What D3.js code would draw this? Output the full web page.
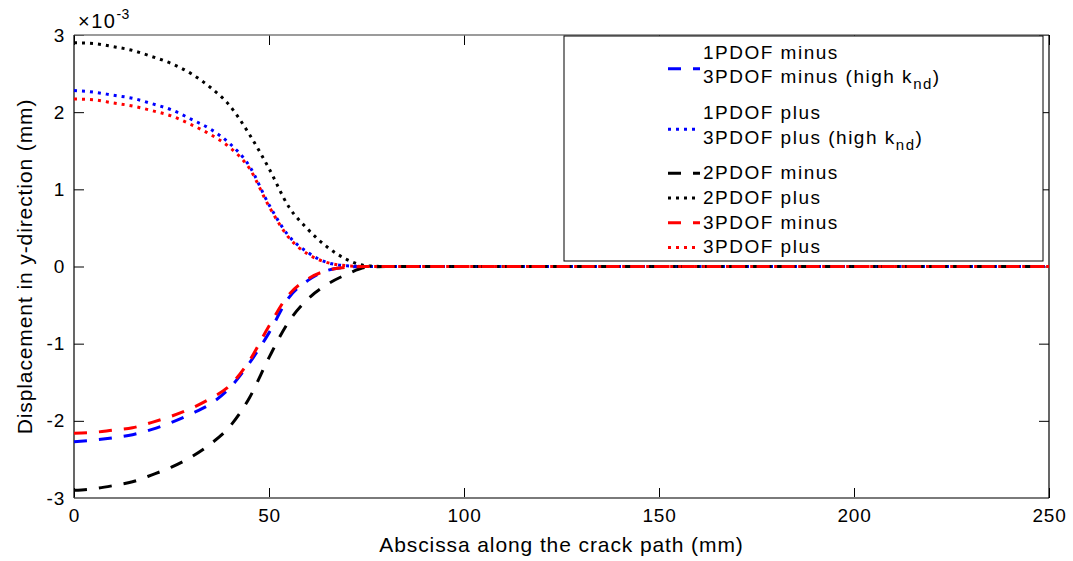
<!DOCTYPE html>
<html>
<head>
<meta charset="utf-8">
<script src="https://cdn.jsdelivr.net/npm/d3@7"></script>
<style>
  body { margin: 0; background: #fff; }
  text { font-family: "Liberation Sans", Arial, sans-serif; fill: #000; }
</style>
</head>
<body>
<script>
// abscissa (mm) and displacements (x 1e-3 mm)
var xs = [0, 5, 10, 15, 20, 25, 30, 35, 40, 45, 50, 55, 60, 65, 70, 75, 80, 100, 150, 200, 250];

var pdof1Minus = [-2.27, -2.25, -2.22, -2.18, -2.11, -2.02, -1.91, -1.78, -1.57, -1.25, -0.86, -0.41, -0.18, -0.05, -0.01, 0, 0, 0, 0, 0, 0];
var pdof1Plus  = [2.28, 2.26, 2.22, 2.18, 2.11, 2.03, 1.91, 1.78, 1.59, 1.30, 0.80, 0.40, 0.18, 0.05, 0.01, 0, 0, 0, 0, 0, 0];
var pdof2Minus = [-2.90, -2.88, -2.84, -2.79, -2.70, -2.60, -2.47, -2.30, -2.07, -1.70, -1.18, -0.72, -0.42, -0.23, -0.10, -0.01, 0, 0, 0, 0, 0];
var pdof2Plus  = [2.90, 2.89, 2.85, 2.80, 2.72, 2.63, 2.50, 2.32, 2.08, 1.71, 1.27, 0.78, 0.48, 0.25, 0.09, 0.01, 0, 0, 0, 0, 0];
var pdof3Minus = [-2.16, -2.15, -2.12, -2.09, -2.02, -1.94, -1.84, -1.71, -1.54, -1.22, -0.77, -0.37, -0.16, -0.05, -0.01, 0, 0, 0, 0, 0, 0];
var pdof3Plus  = [2.17, 2.16, 2.12, 2.08, 2.02, 1.95, 1.84, 1.71, 1.54, 1.27, 0.78, 0.38, 0.16, 0.05, 0.01, 0, 0, 0, 0, 0, 0];

var xTicks = [0, 50, 100, 150, 200, 250];
var yTicks = [-3, -2, -1, 0, 1, 2, 3];

var series = [
  { values: pdof1Minus, color: "#0000ff", style: "dash" },
  { values: pdof1Plus,  color: "#0000ff", style: "dot" },
  { values: pdof2Minus, color: "#000000", style: "dash" },
  { values: pdof2Plus,  color: "#000000", style: "dot" },
  { values: pdof3Minus, color: "#ff0000", style: "dash" },
  { values: pdof3Plus,  color: "#ff0000", style: "dot" }
];

// legend: each entry is a list of text lines, [text, subscript, rest]
var legendEntries = [
  { idx: 0, lines: [["1PDOF minus"], ["3PDOF minus (high k", "nd", ")"]] },
  { idx: 1, lines: [["1PDOF plus"], ["3PDOF plus (high k", "nd", ")"]] },
  { idx: 2, lines: [["2PDOF minus"]] },
  { idx: 3, lines: [["2PDOF plus"]] },
  { idx: 4, lines: [["3PDOF minus"]] },
  { idx: 5, lines: [["3PDOF plus"]] }
];

var width = 1073, height = 561;
var margin = { top: 35, right: 24, bottom: 63, left: 74 };
var w = width - margin.left - margin.right,
    h = height - margin.top - margin.bottom;

var dashes = { dash: "13,12", dot: "3,5" };

var svg = d3.select("body").append("svg")
    .attr("width", width)
    .attr("height", height);

var g = svg.append("g")
    .attr("transform", "translate(" + margin.left + "," + margin.top + ")");

var x = d3.scaleLinear().domain([0, 250]).range([0, w]);
var y = d3.scaleLinear().domain([-3, 3]).range([h, 0]);

var fmt = function(d){ return String(d); };

// axes, ticks pointing inward
g.append("g")
    .attr("transform", "translate(0," + h + ")")
    .call(d3.axisBottom(x).tickValues(xTicks).tickSize(-10).tickPadding(11).tickFormat(fmt))
    .call(function(a){ a.select(".domain").remove(); });
g.append("g")
    .call(d3.axisTop(x).tickValues(xTicks).tickSize(-10).tickFormat(""))
    .call(function(a){ a.select(".domain").remove(); });
g.append("g")
    .call(d3.axisLeft(y).tickValues(yTicks).tickSize(-10).tickPadding(9).tickFormat(fmt))
    .call(function(a){ a.select(".domain").remove(); });
g.append("g")
    .attr("transform", "translate(" + w + ",0)")
    .call(d3.axisRight(y).tickValues(yTicks).tickSize(-10).tickFormat(""))
    .call(function(a){ a.select(".domain").remove(); });

g.selectAll(".tick line").attr("stroke", "#000").attr("stroke-width", 1);
g.selectAll(".tick text")
    .style("font-size", "19px")
    .style("letter-spacing", "0.8px")
    .style("font-family", "Liberation Sans, Arial, sans-serif");

// frame
g.append("line").attr("x1", 0).attr("x2", w).attr("y1", 0).attr("y2", 0)
    .attr("stroke", "#7a7a7a").attr("stroke-width", 1.5);
g.append("line").attr("x1", 0).attr("x2", w).attr("y1", h).attr("y2", h)
    .attr("stroke", "#7a7a7a").attr("stroke-width", 2);
g.append("line").attr("x1", 0).attr("x2", 0).attr("y1", 0).attr("y2", h)
    .attr("stroke", "#000").attr("stroke-width", 1.2);
g.append("line").attr("x1", w).attr("x2", w).attr("y1", 0).attr("y2", h)
    .attr("stroke", "#000").attr("stroke-width", 1.2);

// curves
var line = d3.line()
    .x(function(d){ return x(d[0]); })
    .y(function(d){ return y(d[1]); })
    .curve(d3.curveMonotoneX);

series.forEach(function(s){
  g.append("path")
      .datum(xs.map(function(v, i){ return [v, s.values[i]]; }))
      .attr("fill", "none")
      .attr("stroke", s.color)
      .attr("stroke-width", 3)
      .attr("stroke-dasharray", dashes[s.style])
      .attr("d", line);
});

// exponent label
var expo = svg.append("text")
    .attr("x", 78).attr("y", 28)
    .style("font-size", "20px")
    .style("letter-spacing", "1.5px");
expo.append("tspan").text("\u00d710");
expo.append("tspan").attr("dy", -9).style("font-size", "14px").style("letter-spacing", "0.5px").text("-3");

// axis titles
svg.append("text")
    .attr("x", margin.left + w / 2).attr("y", 552)
    .attr("text-anchor", "middle")
    .style("font-size", "21px")
    .style("letter-spacing", "0.9px")
    .text("Abscissa along the crack path (mm)");

svg.append("text")
    .attr("transform", "translate(32," + (margin.top + h / 2) + ") rotate(-90)")
    .attr("text-anchor", "middle")
    .style("font-size", "21px")
    .style("letter-spacing", "0.9px")
    .text("Displacement in y-direction (mm)");

// legend
var leg = svg.append("g");
leg.append("rect")
    .attr("x", 564).attr("y", 36)
    .attr("width", 479).attr("height", 225)
    .attr("fill", "#fff").attr("stroke", "#000").attr("stroke-width", 1);

var lineGap = 24.7, rowY = 58.5;
legendEntries.forEach(function(e){
  var s = series[e.idx];
  var n = e.lines.length;
  var sampleY = n > 1 ? rowY + lineGap / 2 - 2 : rowY - 6;
  leg.append("line")
      .attr("x1", 668).attr("x2", 700)
      .attr("y1", sampleY).attr("y2", sampleY)
      .attr("stroke", s.color)
      .attr("stroke-width", 3)
      .attr("stroke-dasharray", dashes[s.style]);
  e.lines.forEach(function(parts, k){
    var t = leg.append("text")
        .attr("x", 703).attr("y", rowY + k * lineGap)
        .style("font-size", "19px")
        .style("letter-spacing", "1.5px");
    t.append("tspan").text(parts[0]);
    if (parts.length > 1) {
      t.append("tspan").attr("dy", 6).style("font-size", "15px").text(parts[1]);
      t.append("tspan").attr("dy", -6).text(parts[2]);
    }
  });
  rowY += n * lineGap + (n > 1 ? 11 : 0);
});
</script>
</body>
</html>
